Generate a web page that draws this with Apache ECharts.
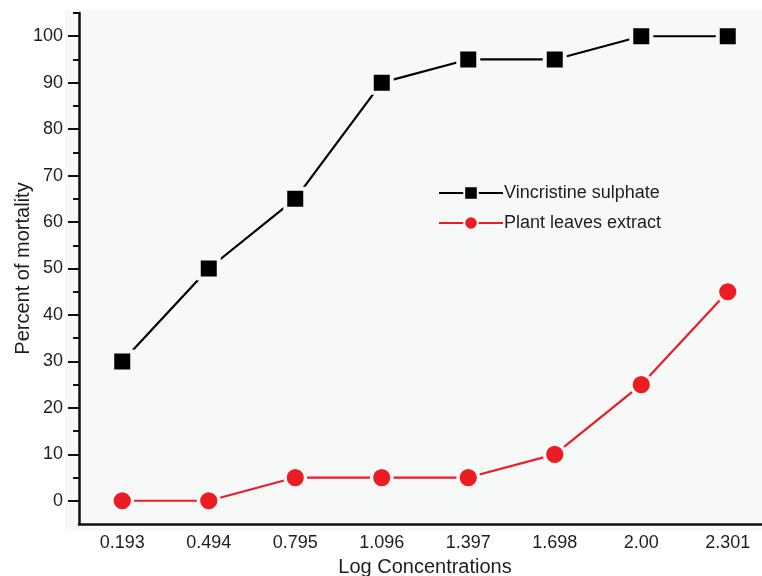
<!DOCTYPE html>
<html>
<head>
<meta charset="utf-8">
<script src="https://cdn.jsdelivr.net/npm/echarts@6/dist/echarts.min.js"></script>
<style>html,body{margin:0;padding:0;background:#fff;}#c{width:762px;height:576px;}</style>
</head>
<body>
<div id="c"></div>
<script>
const categories = ['0.193','0.494','0.795','1.096','1.397','1.698','2.00','2.301'];
const vincristine = [30, 50, 65, 90, 95, 95, 100, 100];
const plantExtract = [0, 0, 5, 5, 5, 10, 25, 45];
const majorTicks = [0, 10, 20, 30, 40, 50, 60, 70, 80, 90, 100];
const minorTicks = [5, 15, 25, 35, 45, 55, 65, 75, 85, 95, 105];

const BG = '#f7f8f8';
const FONT = 'Liberation Sans, Arial, sans-serif';
const TXT = '#1e1e1e';
const chart = echarts.init(document.getElementById('c'));
chart.setOption({
  backgroundColor: '#ffffff',
  animation: false,
  graphic: [{
    type: 'rect', z: -10, silent: true,
    shape: { x: 65, y: 10, width: 700, height: 521 },
    style: { fill: BG }
  }],
  grid: { left: 79, top: 13, bottom: 52, right: -9, outerBoundsMode: 'none', containLabel: false },
  legend: {
    orient: 'vertical', left: 433, top: 179, itemWidth: 64, itemHeight: 17, itemGap: 12,
    textStyle: { fontFamily: FONT, fontSize: 18, color: TXT, padding: [0,0,0,-4] },
    data: ['Vincristine sulphate', 'Plant leaves extract']
  },
  xAxis: {
    type: 'category', data: categories, boundaryGap: true,
    name: 'Log Concentrations', nameLocation: 'middle', nameGap: 33, nameMoveOverlap: false,
    nameTextStyle: { fontFamily: FONT, fontSize: 20, color: TXT },
    axisLine: { onZero: false, lineStyle: { color: '#111', width: 2.5 } },
    axisTick: { alignWithLabel: true, length: 7, lineStyle: { color: '#111', width: 2 } },
    axisLabel: { fontFamily: FONT, fontSize: 18, color: TXT, margin: 10 },
    splitLine: { show: false }
  },
  yAxis: [{
    type: 'value', min: -5, max: 105,
    name: 'Percent of mortality', nameLocation: 'middle', nameGap: 46, nameMoveOverlap: false,
    nameTextStyle: { fontFamily: FONT, fontSize: 20, color: TXT },
    axisLine: { show: true, onZero: false, lineStyle: { color: '#111', width: 2.5 } },
    axisTick: { show: true, customValues: majorTicks, length: 11, lineStyle: { color: '#111', width: 2 } },
    axisLabel: { customValues: majorTicks, fontFamily: FONT, fontSize: 18, color: TXT, margin: 16 },
    splitLine: { show: false }
  }, {
    type: 'value', min: -5, max: 105, position: 'left',
    axisLine: { show: false },
    axisTick: { show: true, customValues: minorTicks, length: 6, lineStyle: { color: '#111', width: 2 } },
    axisLabel: { show: false },
    splitLine: { show: false }
  }],
  series: [{
    name: 'Vincristine sulphate', type: 'line', data: vincristine,
    symbol: 'rect', symbolSize: 20,
    lineStyle: { color: '#000', width: 2.2 },
    itemStyle: { color: '#000', borderColor: BG, borderWidth: 4 }
  }, {
    name: 'Plant leaves extract', type: 'line', data: plantExtract,
    symbol: 'circle', symbolSize: 20.5,
    lineStyle: { color: '#ec1c24', width: 2.2 },
    itemStyle: { color: '#ec1c24', borderColor: BG, borderWidth: 3.3 }
  }]
});
</script>
</body>
</html>
